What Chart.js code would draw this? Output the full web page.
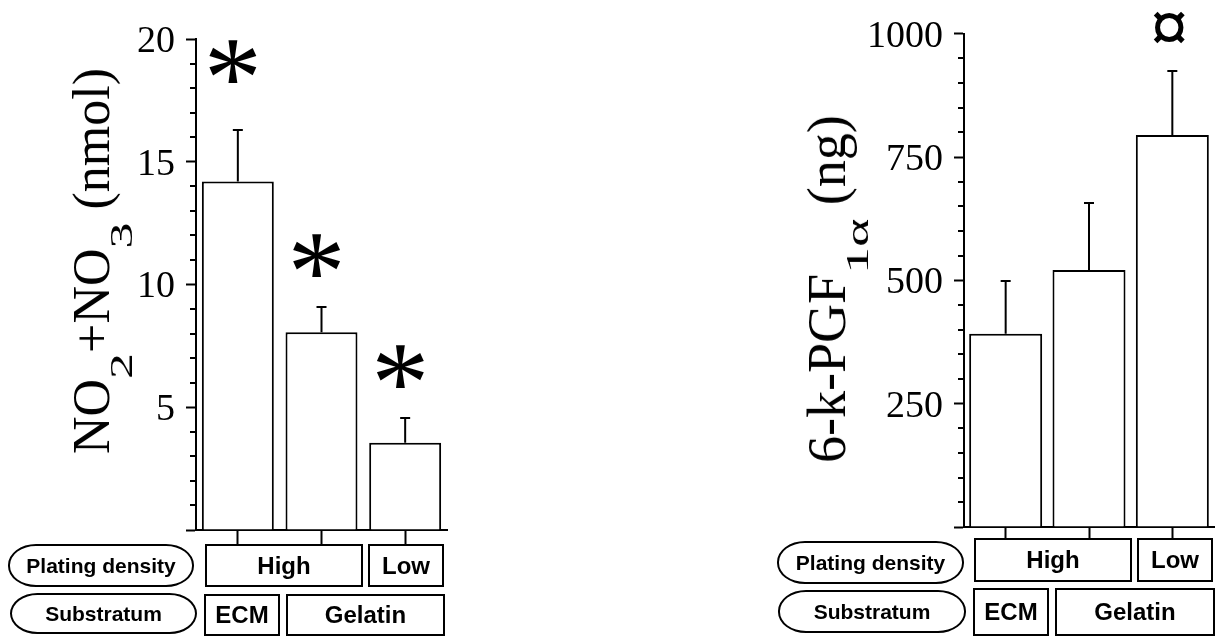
<!DOCTYPE html>
<html>
<head>
<meta charset="utf-8">
<title>NO2+NO3 and 6-k-PGF1a by plating density and substratum</title>
<script src="https://cdn.jsdelivr.net/npm/chart.js@4.4.0/dist/chart.umd.min.js"></script>
<style>
body { margin:0; background:#fff; width:1217px; height:636px; overflow:hidden; position:relative; font-family:"Liberation Sans", Arial, sans-serif; }
canvas { position:absolute; top:0; }
.ytitle { position:absolute; white-space:nowrap; font-family:"Liberation Serif","Times New Roman",serif; font-size:54px; line-height:54px; transform:translate(-50%,-50%) rotate(-90deg); }
.sub { display:inline-block; position:relative; top:41px; transform:scaleY(0.6); transform-origin:50% 0; }
.box { position:absolute; box-sizing:border-box; border:2px solid #000; display:flex; align-items:center; justify-content:center; font-weight:bold; font-size:24px; color:#000; }
.pill { border-radius:28px / 21px; font-size:21px; }
</style>
</head>
<body>
<canvas id="leftChart" width="480" height="636" style="left:0"></canvas>
<canvas id="rightChart" width="457" height="636" style="left:760px"></canvas>

<div class="ytitle" style="left:92px; top:261px; font-size:52px">NO<span class="sub">2</span>+NO<span class="sub">3</span> (nmol)</div>
<div class="ytitle" style="left:827px; top:289px">6-k-PGF<span class="sub">1α</span> (ng)</div>

<div class="box pill" style="left:8px; top:544px; width:186px; height:43px">Plating density</div>
<div class="box pill" style="left:10px; top:593px; width:187px; height:41px">Substratum</div>
<div class="box" style="left:205px; top:544px; width:158px; height:43px">High</div>
<div class="box" style="left:368px; top:544px; width:76px; height:43px">Low</div>
<div class="box" style="left:204px; top:594px; width:76px; height:42px">ECM</div>
<div class="box" style="left:286px; top:594px; width:159px; height:42px">Gelatin</div>

<div class="box pill" style="left:777px; top:541px; width:187px; height:43px">Plating density</div>
<div class="box pill" style="left:778px; top:590px; width:188px; height:43px">Substratum</div>
<div class="box" style="left:974px; top:538px; width:158px; height:44px">High</div>
<div class="box" style="left:1137px; top:538px; width:76px; height:44px">Low</div>
<div class="box" style="left:973px; top:588px; width:76px; height:48px">ECM</div>
<div class="box" style="left:1055px; top:588px; width:160px; height:48px">Gelatin</div>

<script>
// groups: ECM/high density, gelatin/high density, gelatin/low density
var groups = ['ECM - High', 'Gelatin - High', 'Gelatin - Low'];

// NO2 + NO3 (nmol)
var nitriteMean = [14.2, 8.05, 3.55];
var nitriteSem = [2.1, 1.05, 1.0];
var nitriteMarks = ['*', '*', '*'];
var nitriteMarkAt = [19.1, 11.2, 6.65];

// 6-keto-PGF1alpha (ng)
var pgfMean = [392, 521, 795];
var pgfSem = [106, 136, 130];
var pgfMarks = ['', '', '¤'];
var pgfMarkAt = [0, 0, 1012];

// error bars, minor y ticks and significance marks
var extras = {
    id: 'extras',
    afterDraw: function(chart, args, opts) {
        var ctx = chart.ctx;
        var y = chart.scales.y;
        var values = chart.data.datasets[0].data;
        var bars = chart.getDatasetMeta(0).data;
        ctx.save();
        ctx.strokeStyle = '#000';
        ctx.lineWidth = 2;

        bars.forEach(function(bar, i) {
            var top = Math.round(y.getPixelForValue(values[i] + opts.sem[i]));
            ctx.beginPath();
            ctx.moveTo(bar.x, bar.y);
            ctx.lineTo(bar.x, top);
            ctx.moveTo(bar.x - 5, top);
            ctx.lineTo(bar.x + 5, top);
            ctx.stroke();
        });

        var left = chart.chartArea.left;
        for (var v = y.min + opts.minorStep; v < y.max; v += opts.minorStep) {
            if (v % opts.majorStep === 0) continue;
            var py = Math.round(y.getPixelForValue(v));
            ctx.beginPath();
            ctx.moveTo(left - 6, py);
            ctx.lineTo(left, py);
            ctx.stroke();
        }

        ctx.fillStyle = '#000';
        bars.forEach(function(bar, i) {
            var s = opts.marks[i];
            if (!s) return;
            ctx.font = opts.markWeight + ' 100px "Liberation Serif"';
            var m = ctx.measureText(s);
            var size = 100 * opts.markHeight / (m.actualBoundingBoxAscent + m.actualBoundingBoxDescent);
            ctx.font = opts.markWeight + ' ' + size + 'px "Liberation Serif"';
            m = ctx.measureText(s);
            var cy = y.getPixelForValue(opts.markAt[i]);
            var bx = bar.x - (m.actualBoundingBoxRight - m.actualBoundingBoxLeft) / 2;
            var by = cy + (m.actualBoundingBoxAscent - m.actualBoundingBoxDescent) / 2;
            ctx.textAlign = 'left';
            ctx.textBaseline = 'alphabetic';
            ctx.fillText(s, bx + m.actualBoundingBoxLeft, by);
        });
        ctx.restore();
    }
};

function makeChart(id, means, sems, marks, markAt, yMax, major, minor, mark, padding, barPct) {
    var ctx = document.getElementById(id).getContext('2d');
    return new Chart(ctx, {
        type: 'bar',
        data: {
            labels: groups,
            datasets: [{
                data: means,
                backgroundColor: '#fff',
                borderColor: '#000',
                borderWidth: 2,
                barPercentage: barPct,
                categoryPercentage: 1
            }]
        },
        options: {
            responsive: false,
            animation: false,
            layout: { padding: padding },
            plugins: {
                legend: { display: false },
                tooltip: { enabled: false },
                extras: {
                    sem: sems, marks: marks, markAt: markAt, majorStep: major, minorStep: minor,
                    markHeight: mark.height, markWeight: mark.weight
                }
            },
            scales: {
                x: {
                    ticks: { display: false },
                    grid: { offset: false, drawOnChartArea: false, tickLength: padding.xTick, tickWidth: 2, tickColor: '#000' },
                    border: { color: '#000', width: 2 },
                    afterFit: function(s) { s.height = padding.xTick; }
                },
                y: {
                    min: 0,
                    max: yMax,
                    ticks: {
                        stepSize: major,
                        color: '#000',
                        padding: 11,
                        labelOffset: 3,
                        font: { family: '"Liberation Serif", "Times New Roman", serif', size: 38 },
                        callback: function(v) { return v === 0 ? '' : v; }
                    },
                    grid: { drawOnChartArea: false, tickLength: 10, tickWidth: 2, tickColor: '#000' },
                    border: { color: '#000', width: 2 },
                    afterFit: function(s) { s.width = 110; }
                }
            }
        },
        plugins: [extras]
    });
}

makeChart('leftChart', nitriteMean, nitriteSem, nitriteMarks, nitriteMarkAt, 20, 5, 1,
    { height: 43, weight: 'normal' },
    { left: 86, top: 39, right: 33, bottom: 92, xTick: 14 }, 0.86);
makeChart('rightChart', pgfMean, pgfSem, pgfMarks, pgfMarkAt, 1000, 250, 50,
    { height: 31, weight: 'bold' },
    { left: 94, top: 33, right: 3, bottom: 98, xTick: 11 }, 0.876);
</script>
</body>
</html>
